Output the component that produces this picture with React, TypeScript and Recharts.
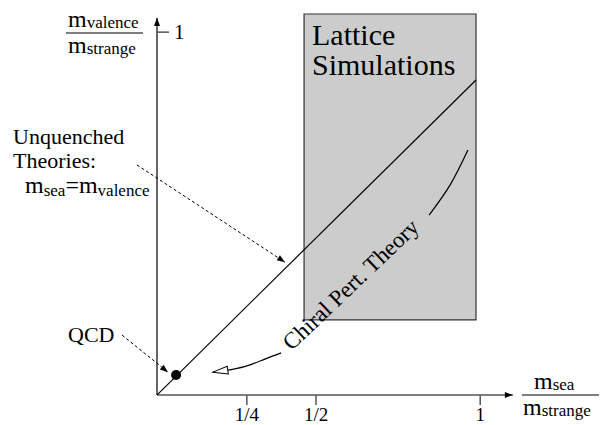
import React from "react";
import {
  ComposedChart,
  XAxis,
  YAxis,
  Line,
  Scatter,
  ReferenceArea,
  ReferenceLine,
} from "recharts";

const SERIF = "'Liberation Serif', 'Times New Roman', serif";

// axis ticks (schematic, not linear in the original)
const xTicks = [0.278, 0.492, 1];
const xTickLabels = ["1/4", "1/2", "1"];
const yTicks = [1];
const yTickLabels = ["1"];

// m_sea = m_valence line
const unquenchedLine = [
  { x: 0, y: 0 },
  { x: 0.987, y: 0.868 },
];

// physical point
const qcdPoint = [{ x: 0.059, y: 0.055 }];

// lattice box extents
const latticeX = [0.455, 0.987];
const latticeY = [0.207, 1.05];

// chiral pert. theory arrow (two pieces around the label)
const chptUpper = [
  { x: 0.962, y: 0.675 },
  { x: 0.907, y: 0.579 },
  { x: 0.842, y: 0.496 },
];
const chptLower = [
  { x: 0.384, y: 0.116 },
  { x: 0.334, y: 0.099 },
  { x: 0.288, y: 0.083 },
  { x: 0.241, y: 0.072 },
  { x: 0.173, y: 0.063 },
];

// dashed pointers from the labels
const unquenchedPointer = [
  { x: -0.062, y: 0.634 },
  { x: 0.396, y: 0.366 },
];
const qcdPointer = [
  { x: -0.108, y: 0.165 },
  { x: 0.034, y: 0.063 },
];

// axis arrow ends
const xAxisEnd = 1.101;
const yAxisEnd = 1.039;

const YTick = (props: any) => {
  const { x, y, payload } = props;
  const i = yTicks.indexOf(payload.value);
  return (
    <g>
      <line x1={x} x2={x + 12} y1={y} y2={y} stroke="#555" strokeWidth={1.5} />
      <text
        x={x + 17}
        y={y}
        dy="0.35em"
        fontSize={21}
        fontFamily={SERIF}
        fill="#000"
      >
        {yTickLabels[i]}
      </text>
    </g>
  );
};

export default function App() {
  return (
    <div style={{ position: "absolute", left: 0, top: 0, width: 602, height: 425 }}>
      <svg width={0} height={0} style={{ position: "absolute" }}>
        <defs>
          <marker
            id="solidHead"
            markerUnits="userSpaceOnUse"
            viewBox="-10 -5 12 10"
            markerWidth={12}
            markerHeight={10}
            refX={0}
            refY={0}
            orient="auto"
            overflow="visible"
          >
            <path d="M-8,-3 L0,0 L-8,3 Z" fill="#000" />
          </marker>
          <marker
            id="openHead"
            markerUnits="userSpaceOnUse"
            viewBox="-18 -6 20 12"
            markerWidth={20}
            markerHeight={12}
            refX={0}
            refY={0}
            orient="auto"
            overflow="visible"
          >
            <path d="M-15,-4 L0,0 L-15,4 Z" fill="#fff" stroke="#000" strokeWidth={1} />
          </marker>
        </defs>
      </svg>

      <ComposedChart
        width={602}
        height={425}
        margin={{ top: 14, right: 83, bottom: 0, left: 0 }}
      >
        <XAxis
          type="number"
          dataKey="x"
          domain={[0, 1.12]}
          allowDataOverflow
          ticks={xTicks}
          interval={0}
          tickFormatter={(v: number) => xTickLabels[xTicks.indexOf(v)]}
          axisLine={false}
          tickLine={{ stroke: "#555", strokeWidth: 1.5 }}
          tickSize={10}
          tickMargin={3}
          height={30}
          tick={{ fill: "#000", fontSize: 19, fontFamily: SERIF }}
        />
        <YAxis
          type="number"
          dataKey="y"
          domain={[0, 1.05]}
          allowDataOverflow
          ticks={yTicks}
          interval={0}
          axisLine={false}
          tickLine={false}
          tickSize={0}
          tickMargin={0}
          width={157}
          tick={<YTick />}
        />

        <ReferenceArea
          x1={latticeX[0]}
          x2={latticeX[1]}
          y1={latticeY[0]}
          y2={latticeY[1]}
          fill="#cccccc"
          fillOpacity={1}
          stroke="#333"
          strokeWidth={1.2}
          ifOverflow="visible"
        />

        <ReferenceLine
          segment={[{ x: 0, y: 0 }, { x: xAxisEnd, y: 0 }]}
          stroke="#555"
          strokeWidth={1.6}
          ifOverflow="visible"
          markerEnd="url(#solidHead)"
        />
        <ReferenceLine
          segment={[{ x: 0, y: 0 }, { x: 0, y: yAxisEnd }]}
          stroke="#000"
          strokeWidth={1.2}
          ifOverflow="visible"
          markerEnd="url(#solidHead)"
        />

        <ReferenceLine
          segment={unquenchedPointer}
          stroke="#000"
          strokeWidth={1}
          strokeDasharray="3 2.5"
          ifOverflow="visible"
          markerEnd="url(#solidHead)"
        />
        <ReferenceLine
          segment={qcdPointer}
          stroke="#000"
          strokeWidth={1}
          strokeDasharray="3 2.5"
          ifOverflow="visible"
          markerEnd="url(#solidHead)"
        />

        <Line
          data={unquenchedLine}
          dataKey="y"
          type="linear"
          stroke="#000"
          strokeWidth={1.2}
          dot={false}
          activeDot={false}
          isAnimationActive={false}
        />
        <Line
          data={chptUpper}
          dataKey="y"
          type="natural"
          stroke="#000"
          strokeWidth={1.2}
          dot={false}
          activeDot={false}
          isAnimationActive={false}
        />
        <Line
          data={chptLower}
          dataKey="y"
          type="natural"
          stroke="#000"
          strokeWidth={1.2}
          dot={false}
          activeDot={false}
          isAnimationActive={false}
          markerEnd="url(#openHead)"
        />
        <Scatter
          data={qcdPoint}
          dataKey="y"
          fill="#000"
          isAnimationActive={false}
          shape={(p: any) => <circle cx={p.cx} cy={p.cy} r={5} fill="#000" />}
        />
      </ComposedChart>

      <svg
        width={602}
        height={425}
        style={{ position: "absolute", left: 0, top: 0, pointerEvents: "none" }}
        fontFamily={SERIF}
        fill="#000"
      >
        {/* y axis title */}
        <text x={68} y={27} fontSize={24}>
          m<tspan fontSize={17} dy={1}>valence</tspan>
        </text>
        <line x1={66} x2={143} y1={33} y2={33} stroke="#555" strokeWidth={1.6} />
        <text x={68} y={53} fontSize={24}>
          m<tspan fontSize={17} dy={1}>strange</tspan>
        </text>

        {/* x axis title */}
        <text x={534} y={389} fontSize={24}>
          m<tspan fontSize={17} dy={1}>sea</tspan>
        </text>
        <line x1={522} x2={599} y1={395} y2={395} stroke="#555" strokeWidth={1.6} />
        <text x={523} y={415} fontSize={24}>
          m<tspan fontSize={17} dy={1}>strange</tspan>
        </text>

        <text x={312} y={45} fontSize={30}>Lattice</text>
        <text x={312} y={75} fontSize={30}>Simulations</text>

        <text x={13} y={144} fontSize={22}>Unquenched</text>
        <text x={13} y={168} fontSize={22}>Theories:</text>
        <text x={25} y={193} fontSize={24}>
          m<tspan fontSize={17} dy={3}>sea</tspan>
          <tspan fontSize={24} dy={-3}>=m</tspan>
          <tspan fontSize={17} dy={3}>valence</tspan>
        </text>

        <text x={68} y={342} fontSize={22}>QCD</text>

        <text
          x={356}
          y={290}
          fontSize={23}
          textAnchor="middle"
          transform="rotate(-43.6 356 290)"
        >
          Chiral Pert. Theory
        </text>
      </svg>
    </div>
  );
}
